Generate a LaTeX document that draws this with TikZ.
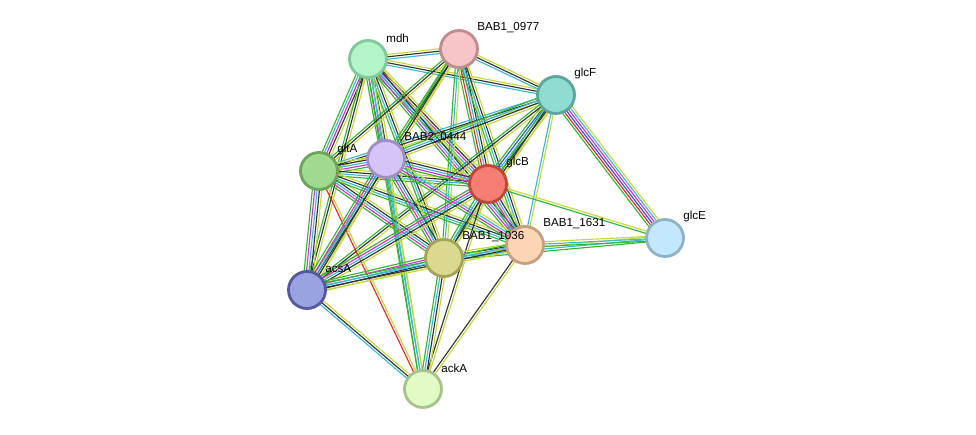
\documentclass[tikz,border=0pt]{standalone}
\usepackage{fontspec}
\setmainfont{Liberation Sans}
\usetikzlibrary{calc}
\pgfdeclarelayer{bg}\pgfsetlayers{bg,main}
\definecolor{eG}{HTML}{33B633}
\definecolor{eR}{HTML}{E8232A}
\definecolor{eB}{HTML}{2E4FE0}
\definecolor{eK}{HTML}{333333}
\definecolor{eM}{HTML}{D22FD2}
\definecolor{eC}{HTML}{3CB8D8}
\definecolor{eY}{HTML}{C5D93A}
\definecolor{f1}{HTML}{B3F5C9}\definecolor{d1}{HTML}{7FC99A}
\definecolor{f2}{HTML}{F7C5C8}\definecolor{d2}{HTML}{C08B8E}
\definecolor{f3}{HTML}{8FDCD1}\definecolor{d3}{HTML}{5AA59C}
\definecolor{f4}{HTML}{9FDB8F}\definecolor{d4}{HTML}{6AA55B}
\definecolor{f5}{HTML}{D5C4F7}\definecolor{d5}{HTML}{9F8EC1}
\definecolor{f6}{HTML}{F57F75}\definecolor{d6}{HTML}{C0463C}
\definecolor{f7}{HTML}{DAD98F}\definecolor{d7}{HTML}{A4A35A}
\definecolor{f8}{HTML}{FCD5B4}\definecolor{d8}{HTML}{C4A07F}
\definecolor{f9}{HTML}{C4E8FB}\definecolor{d9}{HTML}{8FB2C6}
\definecolor{f10}{HTML}{9AA3E0}\definecolor{d10}{HTML}{5559A0}
\definecolor{f11}{HTML}{E2FBC4}\definecolor{d11}{HTML}{A8C28C}
\newcommand\sedge[4]{%
 \foreach \c [count=\i] in {#4}{
  \pgfmathsetmacro\o{(\i-(#3+1)/2)*1.35}
  \draw[line width=0.65pt,\c] ($(#1.center)!\o pt!90:(#2.center)$) -- ($(#2.center)!\o pt!-90:(#1.center)$);}}
\tikzset{
 prot/.style={circle, minimum size=0.74cm, inner sep=0pt, line width=1.6pt, fill=f#1, draw=d#1},
 lbl/.style={anchor=west, font=\fontsize{6.6}{7}\selectfont, inner sep=0pt}
}
\begin{document}
\begin{tikzpicture}[x=0.02cm,y=-0.02cm]
\useasboundingbox (0,0) rectangle (976,435);
\node[prot=1] (mdh) at (368,59) {};
\node[prot=2] (b0977) at (459,49) {};
\node[prot=3] (glcF) at (556,95) {};
\node[prot=4] (gltA) at (319,171) {};
\node[prot=5] (b0444) at (386,159) {};
\node[prot=6] (glcB) at (488,184) {};
\node[prot=7] (b1036) at (444,258) {};
\node[prot=8] (b1631) at (525,245) {};
\node[prot=9] (glcE) at (665,238) {};
\node[prot=10] (acsA) at (307,290) {};
\node[prot=11] (ackA) at (423,389) {};
\node[lbl] (lmdh) at (386,38) {mdh};
\node[lbl] (l0977) at (477,28) {BAB1\_0977};
\node[lbl] (lglcF) at (574,74) {glcF};
\node[lbl] (lgltA) at (337,150) {gltA};
\node[lbl] (l0444) at (404,138) {BAB2\_0444};
\node[lbl] (lglcB) at (506,163) {glcB};
\node[lbl] (l1036) at (462,237) {BAB1\_1036};
\node[lbl] (l1631) at (543,224) {BAB1\_1631};
\node[lbl] (lglcE) at (683,217) {glcE};
\node[lbl] (lacsA) at (325,269) {acsA};
\node[lbl] (lackA) at (441,368) {ackA};
\begin{pgfonlayer}{bg}
\sedge{mdh}{b0977}{3}{eC,eK,eY}
\sedge{mdh}{glcF}{3}{eC,eK,eY}
\sedge{mdh}{gltA}{5}{eG,eC,eM,eK,eY}
\sedge{mdh}{b0444}{5}{eG,eM,eC,eK,eY}
\sedge{mdh}{glcB}{5}{eG,eC,eM,eK,eY}
\sedge{mdh}{b1036}{4}{eG,eC,eK,eY}
\sedge{mdh}{b1631}{5}{eG,eM,eC,eK,eY}
\sedge{mdh}{acsA}{3}{eG,eK,eY}
\sedge{mdh}{ackA}{3}{eG,eC,eY}
\sedge{b0977}{glcF}{3}{eC,eK,eY}
\sedge{b0977}{gltA}{3}{eG,eK,eY}
\sedge{b0977}{b0444}{3}{eG,eK,eY}
\sedge{b0977}{glcB}{5}{eG,eR,eC,eK,eY}
\sedge{b0977}{b1036}{3}{eG,eC,eY}
\sedge{b0977}{b1631}{4}{eG,eC,eK,eY}
\sedge{b0977}{acsA}{3}{eG,eK,eY}
\sedge{glcF}{gltA}{3}{eC,eK,eY}
\sedge{glcF}{b0444}{4}{eG,eC,eK,eY}
\sedge{glcF}{glcB}{5}{eG,eB,eC,eK,eY}
\sedge{glcF}{glcE}{6}{eG,eR,eB,eM,eC,eY}
\sedge{glcF}{b1036}{3}{eG,eK,eY}
\sedge{glcF}{b1631}{2}{eC,eY}
\sedge{glcF}{acsA}{3}{eG,eK,eY}
\sedge{gltA}{b0444}{5}{eG,eM,eC,eK,eY}
\sedge{gltA}{glcB}{4}{eG,eC,eK,eY}
\sedge{gltA}{b1036}{5}{eG,eM,eC,eK,eY}
\sedge{gltA}{b1631}{4}{eG,eC,eK,eY}
\sedge{gltA}{acsA}{5}{eG,eM,eC,eK,eY}
\sedge{gltA}{ackA}{2}{eR,eY}
\sedge{b0444}{glcB}{5}{eG,eM,eC,eK,eY}
\sedge{b0444}{b1036}{5}{eG,eM,eC,eK,eY}
\sedge{b0444}{b1631}{4}{eG,eM,eC,eY}
\sedge{b0444}{acsA}{5}{eG,eM,eC,eK,eY}
\sedge{b0444}{ackA}{3}{eG,eC,eY}
\sedge{glcB}{b1631}{5}{eG,eM,eC,eK,eY}
\sedge{glcB}{glcE}{2}{eG,eY}
\sedge{glcB}{b1036}{4}{eG,eC,eK,eY}
\sedge{glcB}{acsA}{5}{eG,eM,eC,eK,eY}
\sedge{glcB}{ackA}{2}{eK,eY}
\sedge{b1036}{b1631}{4}{eG,eC,eK,eY}
\sedge{b1036}{glcE}{3}{eG,eC,eY}
\sedge{b1036}{acsA}{5}{eG,eM,eC,eK,eY}
\sedge{b1036}{ackA}{4}{eG,eC,eK,eY}
\sedge{b1631}{glcE}{3}{eG,eC,eY}
\sedge{b1631}{acsA}{4}{eG,eC,eK,eY}
\sedge{b1631}{ackA}{2}{eK,eY}
\sedge{acsA}{ackA}{3}{eC,eK,eY}
\end{pgfonlayer}
\end{tikzpicture}
\end{document}
